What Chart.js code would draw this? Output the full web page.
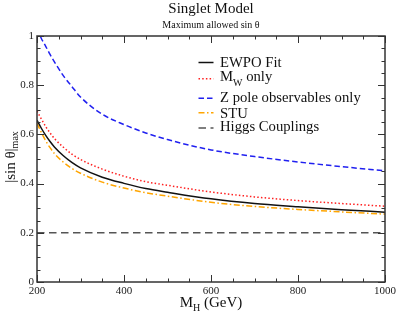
<!DOCTYPE html>
<html>
<head>
<meta charset="utf-8">
<script src="https://cdn.jsdelivr.net/npm/chart.js@4/dist/chart.umd.min.js"></script>
<style>
  html, body { margin: 0; padding: 0; background: #fff; }
  #wrap { width: 399px; height: 313px; position: relative; }
</style>
</head>
<body>
<div id="wrap"><canvas id="c" width="399" height="313"></canvas></div>
<script>
// ---- data ----
const massH          = [200, 210, 220, 230, 240, 260, 280, 300, 350, 400, 450, 500, 600, 700, 800, 900, 1000];
const ewpoFit        = [0.658, 0.625, 0.596, 0.571, 0.549, 0.514, 0.486, 0.464, 0.426, 0.401, 0.380, 0.365, 0.338, 0.319, 0.306, 0.294, 0.284];
const mWOnly         = [0.695, 0.663, 0.632, 0.606, 0.583, 0.549, 0.520, 0.498, 0.459, 0.430, 0.408, 0.393, 0.366, 0.346, 0.331, 0.319, 0.308];
const zPoleOnly      = [1.030, 0.990, 0.958, 0.925, 0.895, 0.840, 0.795, 0.752, 0.682, 0.640, 0.606, 0.579, 0.537, 0.510, 0.488, 0.469, 0.452];
const stuOnly        = [0.645, 0.608, 0.574, 0.546, 0.522, 0.488, 0.462, 0.442, 0.406, 0.382, 0.363, 0.349, 0.324, 0.307, 0.295, 0.285, 0.276];
const higgsCouplings = [0.2, 0.2, 0.2, 0.2, 0.2, 0.2, 0.2, 0.2, 0.2, 0.2, 0.2, 0.2, 0.2, 0.2, 0.2, 0.2, 0.2];

const xTickLabels = ['200', '400', '600', '800', '1000'];
const yTickLabels = ['0', '0.2', '0.4', '0.6', '0.8', '1'];

const seriesNames = ['EWPO Fit', 'M_W only', 'Z pole observables only', 'STU', 'Higgs Couplings'];
const titleText = 'Singlet Model';
const subtitleText = 'Maximum allowed sin \u03B8';

const SERIF = "'Liberation Serif', 'DejaVu Serif', serif";

const styles = [
  { color: '#111111', dash: [] },
  { color: '#ff2020', dash: [1.5, 2.2] },
  { color: '#2020f0', dash: [5.5, 3] },
  { color: '#ffa500', dash: [6, 2.5, 1.5, 2.5] },
  { color: '#555555', dash: [7.5, 4.5] }
];
const seriesValues = [ewpoFit, mWOnly, zPoleOnly, stuOnly, higgsCouplings];

const datasets = seriesValues.map((vals, i) => ({
  label: seriesNames[i],
  data: massH.map((m, k) => ({ x: m, y: vals[k] })),
  borderColor: styles[i].color,
  borderDash: styles[i].dash,
  borderWidth: 1.5,
  borderCapStyle: 'butt',
  pointRadius: 0,
  fill: false,
  cubicInterpolationMode: 'monotone',
  clip: 0
}));

function drawRich(ctx, parts, x, y, size, subSize, subShift, align) {
  let total = 0;
  const widths = parts.map(p => {
    ctx.font = (p[1] ? subSize : size) + 'px ' + SERIF;
    const w = ctx.measureText(p[0]).width;
    total += w;
    return w;
  });
  let cx = align === 'center' ? x - total / 2 : x;
  ctx.textAlign = 'left';
  ctx.textBaseline = 'alphabetic';
  parts.forEach((p, i) => {
    ctx.font = (p[1] ? subSize : size) + 'px ' + SERIF;
    ctx.fillText(p[0], cx, y + (p[1] ? subShift : 0));
    cx += widths[i];
  });
}

const decorPlugin = {
  id: 'decor',
  afterDatasetsDraw(chart) {
    const ctx = chart.ctx;
    const a = chart.chartArea;
    const xs = chart.scales.x, ys = chart.scales.y;
    ctx.save();
    ctx.strokeStyle = '#333';
    ctx.lineWidth = 1;
    ctx.beginPath();
    for (let v = 200; v <= 1000; v += 50) {
      const px = Math.round(xs.getPixelForValue(v)) + 0.5;
      const len = (v % 200 === 0) ? 7 : 3.5;
      ctx.moveTo(px, a.bottom); ctx.lineTo(px, a.bottom - len);
      ctx.moveTo(px, a.top); ctx.lineTo(px, a.top + len);
    }
    for (let i = 0; i <= 20; i++) {
      const py = Math.round(ys.getPixelForValue(i * 0.05)) + 0.5;
      const len = (i % 4 === 0) ? 7 : 3.5;
      ctx.moveTo(a.left, py); ctx.lineTo(a.left + len, py);
      ctx.moveTo(a.right, py); ctx.lineTo(a.right - len, py);
    }
    ctx.stroke();
    ctx.lineWidth = 1.5;
    ctx.strokeStyle = '#333';
    ctx.strokeRect(a.left, a.top, a.right - a.left, a.bottom - a.top);

    // legend
    const lx0 = 198.5, lx1 = 213.5, tx = 220;
    const lineY = [62.5, 78.7, 98.3, 112.8, 128];
    const baseY = [67.3, 81.2, 101.6, 117.8, 131.4];
    ctx.fillStyle = '#111';
    for (let i = 0; i < 5; i++) {
      ctx.beginPath();
      ctx.setLineDash(styles[i].dash);
      ctx.strokeStyle = styles[i].color;
      ctx.lineWidth = 1.5;
      ctx.moveTo(lx0, lineY[i]); ctx.lineTo(lx1, lineY[i]);
      ctx.stroke();
      ctx.setLineDash([]);
      const name = seriesNames[i];
      if (name.indexOf('_') >= 0) {
        const m = name.split('_');
        const rest = m[1].split(' ');
        drawRich(ctx, [[m[0], false], [rest[0], true], [' ' + rest.slice(1).join(' '), false]], tx, baseY[i], 14.7, 10, 4.5, 'left');
      } else {
        ctx.font = '14.7px ' + SERIF;
        ctx.textAlign = 'left';
        ctx.textBaseline = 'alphabetic';
        ctx.fillText(name, tx, baseY[i]);
      }
    }

    const cx = (a.left + a.right) / 2;
    ctx.fillStyle = '#111';
    ctx.textAlign = 'center';
    ctx.textBaseline = 'alphabetic';
    ctx.font = '15px ' + SERIF;
    ctx.fillText(titleText, cx, 12.5);
    ctx.font = '10px ' + SERIF;
    ctx.fillText(subtitleText, cx, 28);

    drawRich(ctx, [['M', false], ['H', true], [' (GeV)', false]], cx, 306.5, 15, 10, 4.5, 'center');

    ctx.translate(14.5, (a.top + a.bottom) / 2 - 2);
    ctx.rotate(-Math.PI / 2);
    drawRich(ctx, [['|sin \u03B8|', false], ['max', true]], 0, 0, 15, 10, 3.5, 'center');
    ctx.restore();
  }
};

new Chart(document.getElementById('c'), {
  type: 'line',
  data: { datasets },
  options: {
    responsive: false,
    animation: false,
    devicePixelRatio: 1,
    layout: { padding: { top: 36, right: 10, left: 0, bottom: 0 } },
    plugins: { legend: { display: false }, tooltip: { enabled: false }, title: { display: false } },
    scales: {
      x: {
        type: 'linear', min: 200, max: 1000,
        grid: { display: false, drawTicks: false }, border: { display: false },
        ticks: { stepSize: 200, autoSkip: false, maxRotation: 0, padding: 3,
                 color: '#222', font: { family: SERIF, size: 11 },
                 callback: (v) => { const i = (v - 200) / 200; return Number.isInteger(i) ? xTickLabels[i] : ''; } },
        afterFit(s) { s.height = 31; }
      },
      y: {
        min: 0, max: 1,
        grid: { display: false, drawTicks: false }, border: { display: false },
        ticks: { stepSize: 0.2, padding: 3, color: '#222', font: { family: SERIF, size: 11 },
                 callback: (v) => { const i = Math.round(v / 0.2); return yTickLabels[i]; } },
        afterFit(s) { s.width = 37; }
      }
    }
  },
  plugins: [decorPlugin]
});
</script>
</body>
</html>
